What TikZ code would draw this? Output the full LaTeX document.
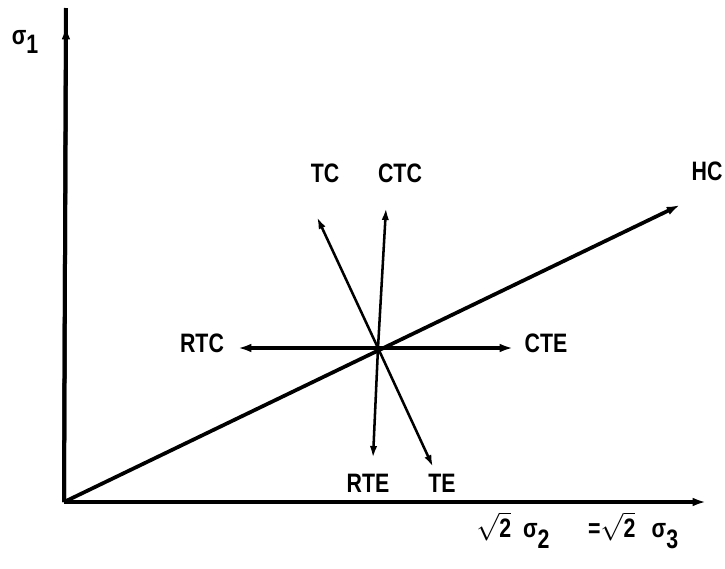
\documentclass[tikz,border=0pt]{standalone}
\usepackage{fontspec}
\setmainfont{Liberation Sans}
\newfontfamily\lettering[FakeStretch=0.8]{Liberation Sans Bold}
\usetikzlibrary{arrows.meta}

\tikzset{
    lbl/.style={font=\fontsize{20}{20}\lettering, inner sep=0pt},
    axisline/.style={draw, line width=3pt, -{Latex[length=10pt,width=6.5pt]}},
    mainline/.style={draw, line width=2.8pt, -{Latex[length=10pt,width=6.5pt]}},
    thinline/.style={draw, line width=1.9pt, -{Latex[length=9pt,width=5.5pt]}}
}

\begin{document}
\begin{tikzpicture}[x=0.75pt, y=-0.75pt]
            \useasboundingbox (0,0) rectangle (725,568);
            % axes
            \coordinate (O) at (64,502);
            \coordinate (ytip) at (66,26);
            \coordinate (ytop) at (66,8);
            \coordinate (xend) at (706,502);
            \path [draw, line width=3pt] (O) -- (ytop);
            \path [axisline] (O) -- (ytip);
            \path [axisline] (O) -- (xend);
            \node[lbl] (s1) at (25,42) {σ\raisebox{-0.7ex}{1}};
            \node[lbl, anchor=north west] (s23) at (476,512) {$\sqrt{\hbox{2}}$\ \ σ\raisebox{-0.8ex}{2}\quad\ \ =$\sqrt{\hbox{2}}$\ \ \,σ\raisebox{-0.8ex}{3}};
            % load paths
            \coordinate (c) at (378,348);
            \coordinate (hcend) at (680,205);
            \coordinate (rtcend) at (238,348);
            \coordinate (cteend) at (513,348);
            \coordinate (tcend) at (317,217);
            \coordinate (ctcend) at (386,208);
            \coordinate (rteend) at (373,458);
            \coordinate (teend) at (433,467);
            \path [mainline] (O) -- (hcend);
            \path [mainline] (c) -- (rtcend);
            \path [mainline] (c) -- (cteend);
            \path [thinline] (c) -- (tcend);
            \path [thinline] (c) -- (ctcend);
            \path [thinline] (c) -- (rteend);
            \path [thinline] (c) -- (teend);
            \node[lbl] (hc) at (707,171) {HC};
            \node[lbl] (rtc) at (202,343) {RTC};
            \node[lbl] (cte) at (546,343) {CTE};
            \node[lbl] (tc) at (325,173) {TC};
            \node[lbl] (ctc) at (400,173) {CTC};
            \node[lbl] (rte) at (368,483) {RTE};
            \node[lbl] (te) at (442,483) {TE};
        \end{tikzpicture}
\end{document}
